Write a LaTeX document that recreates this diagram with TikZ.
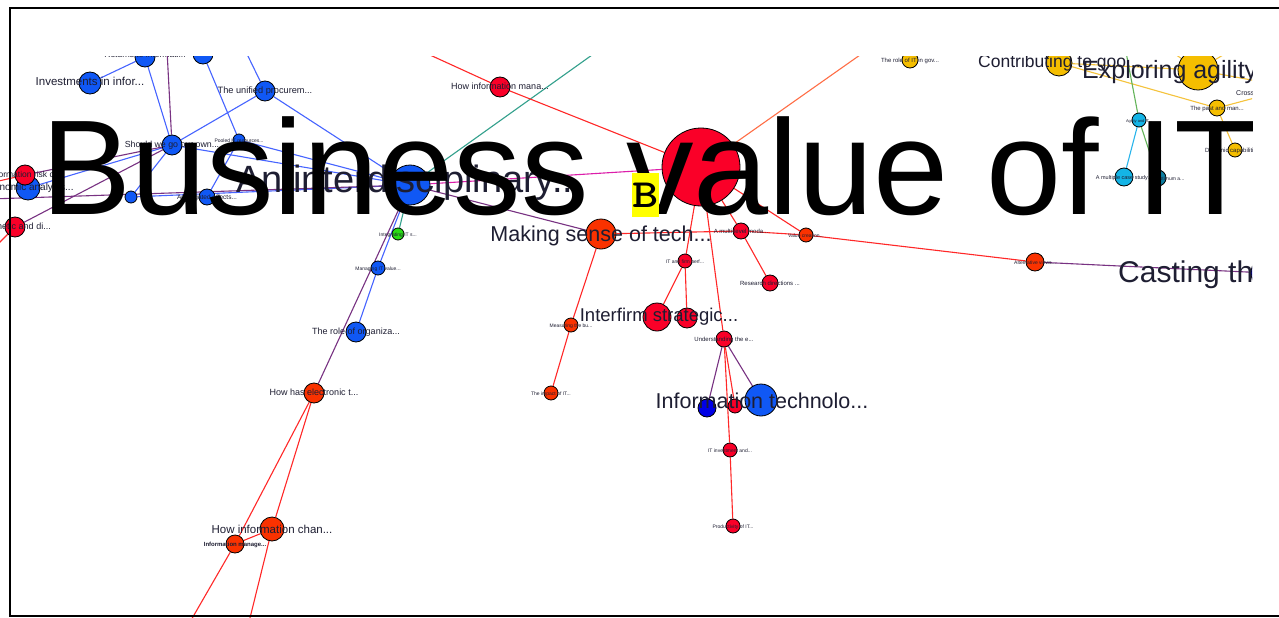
\documentclass[tikz,border=0pt]{standalone}
\usepackage{fontspec}
\usepackage{graphicx}
\setmainfont{Liberation Sans}
\pgfdeclarelayer{paper}
\pgfdeclarelayer{edges}
\pgfsetlayers{paper,edges,main}

% node fills
\definecolor{nblue}{RGB}{16,88,245}
\definecolor{nred}{RGB}{250,0,40}
\definecolor{norange}{RGB}{250,50,0}
\definecolor{ndblue}{RGB}{0,0,230}
\definecolor{nyellow}{RGB}{245,190,0}
\definecolor{ncyan}{RGB}{20,180,230}
\definecolor{ngreen}{RGB}{40,220,20}
% edge colours
\definecolor{eblue}{RGB}{70,100,255}
\definecolor{ered}{RGB}{255,40,40}
\definecolor{epurple}{RGB}{120,50,130}
\definecolor{eteal}{RGB}{50,160,140}
\definecolor{emag}{RGB}{220,30,170}
\definecolor{eorange}{RGB}{255,110,70}
\definecolor{eyellow}{RGB}{245,195,60}
\definecolor{egreen}{RGB}{100,180,90}
\definecolor{ecyan}{RGB}{40,180,235}
\definecolor{labelc}{RGB}{30,30,50}
\definecolor{tagyellow}{RGB}{255,255,0}

\tikzset{
  nd/.style={circle, draw=black, line width=0.8pt, inner sep=0pt, minimum size=#1},
  lb/.style={inner sep=0pt, text=labelc, anchor=mid, font=\fontsize{#1}{#1}\selectfont},
  lbb/.style={inner sep=0pt, text=labelc, anchor=base, font=\fontsize{#1}{#1}\selectfont},
  lbw/.style={inner sep=0pt, text=labelc, anchor=base west, font=\fontsize{#1}{#1}\selectfont},
  ed/.style={line width=1.1pt, draw=#1},
}

\begin{document}
\begin{tikzpicture}[x=1pt,y=-1pt]
\useasboundingbox (0,0) rectangle (1279,618);
\begin{pgfonlayer}{paper}
  \fill[white] (0,0) rectangle (1279,618);
\end{pgfonlayer}

\begin{scope}
\clip (-10,57) rectangle (1252,630);

% ---- off-view end points
\coordinate (tA) at (167,50);
\coordinate (tB) at (245,50);
\coordinate (tC) at (430,55);
\coordinate (tD) at (592,55);
\coordinate (tE) at (860,55);
\coordinate (tF) at (1126,52);
\coordinate (tG) at (1172,52);
\coordinate (tH) at (1228,52);
\coordinate (rA) at (1262,96);
\coordinate (rB) at (1262,82);
\coordinate (lA) at (-10,183);
\coordinate (lB) at (-10,252);
\coordinate (lC) at (-10,199);
\coordinate (bA) at (190,622);
\coordinate (bB) at (249,622);

% ---- blue cluster
\node[nd=22, fill=nblue] (b1) at (90,83) {};
\node[nd=20, fill=nblue] (b2) at (145,57) {};
\node[nd=20, fill=nblue] (b3) at (203,54) {};
\node[nd=20, fill=nblue] (b4) at (265,91) {};
\node[nd=20, fill=nblue] (b5) at (172,145) {};
\node[nd=12, fill=nblue] (b6) at (239,140) {};
\node[nd=12, fill=nblue] (b7) at (131,197) {};
\node[nd=16, fill=nblue] (b8) at (207,197) {};
\node[nd=24, fill=nblue] (b9) at (28,188) {};
\node[nd=20, fill=nred] (rl1) at (25,175) {};
\node[nd=20, fill=nred] (rl2) at (15,227) {};
\node[nd=40, fill=nblue] (bb) at (410,185) {};
\node[nd=12, fill=ngreen] (g1) at (398,234) {};
\node[nd=14, fill=nblue] (b10) at (378,268) {};
\node[nd=20, fill=nblue] (b11) at (356,332) {};
\node[nd=20, fill=norange] (o1) at (314,393) {};
\node[nd=24, fill=norange] (o2) at (272,529) {};
\node[nd=18, fill=norange] (o3) at (235,544) {};

% ---- red cluster
\node[nd=78, fill=nred] (R) at (701,167) {};
\node[nd=20, fill=nred] (r1) at (500,87) {};
\node[nd=30, fill=norange] (o4) at (601,234) {};
\node[nd=16, fill=nred] (r2) at (741,231) {};
\node[nd=14, fill=norange] (o5) at (806,235) {};
\node[nd=14, fill=nred] (r3) at (685,261) {};
\node[nd=16, fill=nred] (r4) at (770,283) {};
\node[nd=28, fill=nred] (r5) at (657,317) {};
\node[nd=20, fill=nred] (r6) at (687,318) {};
\node[nd=14, fill=norange] (o6) at (571,325) {};
\node[nd=14, fill=norange] (o7) at (551,393) {};
\node[nd=16, fill=nred] (r7) at (724,339) {};
\node[nd=32, fill=nblue] (bl2) at (761,400) {};
\node[nd=18, fill=ndblue] (db) at (707,408) {};
\node[nd=14, fill=nred] (r8) at (735,406) {};
\node[nd=14, fill=nred] (r9) at (730,450) {};
\node[nd=14, fill=nred] (r10) at (733,526) {};
\node[nd=18, fill=norange] (o8) at (1035,262) {};
\node[nd=34, fill=ndblue] (bR) at (1268,273) {};

% ---- top right
\node[nd=16, fill=nyellow] (y1) at (910,60) {};
\node[nd=26, fill=nyellow] (y2) at (1059,63) {};
\node[nd=40, fill=nyellow] (y3) at (1198,70) {};
\node[nd=16, fill=nyellow] (y4) at (1217,108) {};
\node[nd=14, fill=nyellow] (y5) at (1235,150) {};
\node[nd=14, fill=ncyan] (c1) at (1139,120) {};
\node[nd=18, fill=ncyan] (c2) at (1124,177) {};
\node[nd=16, fill=ncyan!70!black] (c3) at (1158,178) {};

% ---- connectors (behind the nodes)
\begin{pgfonlayer}{edges}
\begin{scope}
\clip (-10,57) rectangle (1252,630);
\draw[ed=eblue] (b1) -- (b2);
\draw[ed=eblue] (b2) -- (b5);
\draw[ed=eblue] (b3) -- (b6);
\draw[ed=eblue] (tB) -- (b4);
\draw[ed=eblue] (b4) -- (b5);
\draw[ed=eblue] (b4) -- (bb);
\draw[ed=epurple] (tA) -- (b5);
\draw[ed=eblue] (b5) -- (bb);
\draw[ed=eblue] (b5) -- (b7);
\draw[ed=eblue] (b9) -- (b5);
\draw[ed=eblue] (b6) -- (bb);
\draw[ed=eblue] (b6) -- (b8);
\draw[ed=eblue] (b7) -- (bb);
\draw[ed=epurple] (rl1) -- (b5);
\draw[ed=epurple] (rl2) -- (b5);
\draw[ed=epurple] (lC) -- (bb);
\draw[ed=ered] (lA) -- (rl1);
\draw[ed=ered] (lB) -- (rl2);
\draw[ed=eteal] (bb) -- (tD);
\draw[ed=eteal] (bb) -- (g1);
\draw[ed=eblue] (bb) -- (b10);
\draw[ed=eblue] (b10) -- (b11);
\draw[ed=epurple] (bb) -- (o1);
\draw[ed=epurple] (bb) -- (o4);
\draw[ed=emag] (bb) -- (R);
\draw[ed=ered] (o1) -- (o2);
\draw[ed=ered] (o2) -- (bB);
\draw[ed=ered] (o1) -- (o3);
\draw[ed=ered] (o3) -- (bA);
\draw[ed=ered] (o3) -- (o2);
\draw[ed=ered] (tC) -- (r1);
\draw[ed=ered] (r1) -- (R);
\draw[ed=eorange] (R) -- (tE);
\draw[ed=ered] (R) -- (o5);
\draw[ed=ered] (R) -- (r2);
\draw[ed=ered] (R) -- (r3);
\draw[ed=ered] (R) -- (r7);
\draw[ed=ered] (o4) -- (r2);
\draw[ed=ered] (r2) -- (o5);
\draw[ed=ered] (o5) -- (o8);
\draw[ed=epurple] (o8) -- (bR);
\draw[ed=ered] (r2) -- (r4);
\draw[ed=ered] (r3) -- (r5);
\draw[ed=ered] (r3) -- (r6);
\draw[ed=ered] (o4) -- (o6);
\draw[ed=ered] (o6) -- (o7);
\draw[ed=epurple] (r7) -- (db);
\draw[ed=ered] (r7) -- (r8);
\draw[ed=epurple] (r7) -- (bl2);
\draw[ed=ered] (r7) -- (r9);
\draw[ed=ered] (r9) -- (r10);
\draw[ed=eyellow] (y2) -- (y4);
\draw[ed=eyellow] (y2) -- (y3);
\draw[ed=eyellow] (y4) -- (y5);
\draw[ed=eyellow] (y4) -- (rA);
\draw[ed=eyellow] (y3) -- (tG);
\draw[ed=eyellow] (y3) -- (tH);
\draw[ed=eyellow] (y3) -- (rB);
\draw[ed=egreen] (tF) -- (c1);
\draw[ed=ecyan] (c1) -- (c2);
\draw[ed=egreen] (c1) -- (c3);
\end{scope}
\end{pgfonlayer}

% ---- labels
\node[lb=11.5] (b1t) at (b1) {Investments in infor...};
\node[lb=8.5] (b2t) at (145,55) {Returns to informati...};
\node[lb=9.2] (b4t) at (b4) {The unified procurem...};
\node[lb=8.8] (b5t) at (b5) {Should we go our own...};
\node[lb=5] (b6t) at (b6) {Pooled IT resources...};
\node[lb=6.5] (b8t) at (b8) {Aggregated effects...};
\node[lb=10] (b9t) at (b9) {Economic analysis...};
\node[lb=8.5] (rl1t) at (rl1) {Information risk c...};
\node[lb=9] (rl2t) at (rl2) {Aesthetic and di...};
\node[lbb=38] (bbt) at (410,192) {An interdisciplinary...};
\node[lb=5] (g1t) at (g1) {Integrating IT s...};
\node[lb=5] (b10t) at (b10) {Managing IT value...};
\node[lb=9] (b11t) at (b11) {The role of organiza...};
\node[lb=9] (o1t) at (o1) {How has electronic t...};
\node[lbb=11.5] (o2t) at (272,533) {How information chan...};
\node[lb=6, font=\fontsize{6}{6}\selectfont\bfseries] (o3t) at (o3) {Information manage...};
\node[lb=9] (r1t) at (r1) {How information mana...};
\node[lbb=21.5] (o4t) at (601,241.5) {Making sense of tech...};
\node[lb=6] (r2t) at (r2) {A multi-level moda...};
\node[lb=5] (o5t) at (o5) {Value creation...};
\node[lb=5] (r3t) at (r3) {IT and firm perf...};
\node[lb=6] (r4t) at (r4) {Research directions ...};
\node[lbb=18.5] (r5t) at (659,321.5) {Interfirm strategic...};
\node[lb=5] (o6t) at (o6) {Measuring the bu...};
\node[lb=5] (o7t) at (o7) {The impact of IT...};
\node[lb=6] (r7t) at (r7) {Understanding the e...};
\node[lbb=21.5] (bl2t) at (762,408) {Information technolo...};
\node[lb=5] (r9t) at (r9) {IT investment and...};
\node[lb=5] (r10t) at (r10) {Productivity of IT...};
\node[lb=5] (o8t) at (o8) {Alternative views...};
\node[lbw=30] (bRt) at (1118,282) {Casting the light...};
\node[lb=6] (y1t) at (y1) {The role of IT in gov...};
\node[lbw=17.5] (y2t) at (978,67) {Contributing to goo...};
\node[lbw=25] (y3t) at (1082,78) {Exploring agility...};
\node[lb=6] (y4t) at (y4) {The past and man...};
\node[lb=6] (y5t) at (y5) {Dynamic capabilities...};
\node[lbw=7] (crt) at (1236,95) {Cross-functional...};
\node[lb=4] (c1t) at (c1) {Agility and IT...};
\node[lb=5.5] (c2t) at (c2) {A multiple case study...};
\node[lb=5] (c3t) at (1170,178) {Optimum a...};

% ---- title over the graph
\node[anchor=base west, inner sep=0pt, font=\fontsize{135}{135}\selectfont] (title) at (41,214) {Business value of IT};
\end{scope}

% ---- frame
\draw[line width=2pt] (1290,8) -- (10,8) -- (10,616) -- (1290,616);

% ---- tag
\node[fill=tagyellow, minimum width=27pt, minimum height=44pt, inner sep=0pt,
      font=\ttfamily\bfseries\fontsize{40}{40}\selectfont] (tag) at (645.5,195) {\scalebox{1.25}[1]{B}};
\end{tikzpicture}
\end{document}
